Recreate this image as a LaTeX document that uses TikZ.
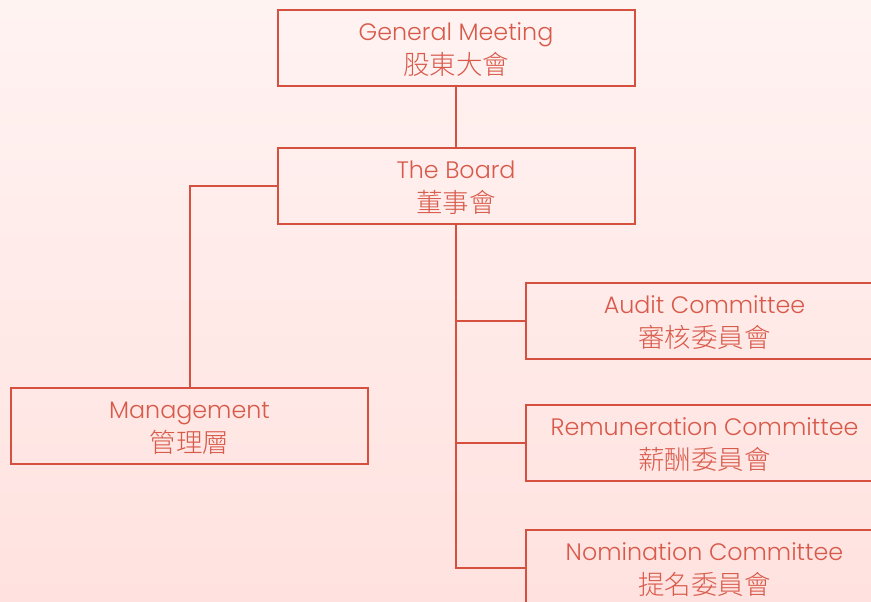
\documentclass[tikz,border=0pt]{standalone}
\usepackage{fontspec}
\setmainfont{Poppins}[UprightFont=* Light]
\newfontfamily\cjk{Noto Sans CJK TC}[UprightFont=* Light]
\definecolor{linecol}{HTML}{D5503F}
\definecolor{textcol}{HTML}{D85A4A}
\definecolor{bgtop}{HTML}{FFF3F2}
\definecolor{bgbot}{HTML}{FFE2DF}
\newcommand{\zh}[1]{{\cjk\fontsize{26.5}{34}\selectfont #1}}
\begin{document}
\begin{tikzpicture}[x=1pt,y=-1pt,
  orgbox/.style={draw=linecol,line width=2pt,minimum width=357pt,minimum height=76pt,inner sep=0pt},
  boxtext/.style={inner sep=0pt,text=textcol,align=center,font=\fontsize{23.8}{34}\selectfont,yshift=-2pt},
  conn/.style={draw=linecol,line width=2pt}]
\shade[top color=bgtop,bottom color=bgbot] (0,0) rectangle (871,602);
\useasboundingbox (0,0) rectangle (871,602);
\begin{scope}
\clip (0,0) rectangle (871,602);
\node[orgbox] (gm) at (456,48) {};
\node[orgbox] (board) at (456,186) {};
\node[orgbox] (mgmt) at (189.5,426) {};
\node[orgbox] (audit) at (704.5,320.5) {};
\node[orgbox] (remu) at (704.5,443) {};
\node[orgbox] (nomi) at (704.5,568) {};
\node[boxtext] (gmt) at (gm.center) {General Meeting\\\zh{股東大會}};
\node[boxtext] (boardt) at (board.center) {The Board\\\zh{董事會}};
\node[boxtext] (mgmtt) at (mgmt.center) {Management\\\zh{管理層}};
\node[boxtext] (auditt) at (audit.center) {Audit Committee\\\zh{審核委員會}};
\node[boxtext] (remut) at (remu.center) {Remuneration Committee\\\zh{薪酬委員會}};
\node[boxtext] (nomit) at (nomi.center) {Nomination Committee\\\zh{提名委員會}};
\coordinate (trunk) at (board.south |- nomi.west);
\draw[conn] (gm.south) -- (board.north);
\draw[conn] (board.west) -| (mgmt.north);
\draw[conn] (board.south) -- (trunk) -- (nomi.west);
\draw[conn] (board.south |- audit.west) -- (audit.west);
\draw[conn] (board.south |- remu.west) -- (remu.west);
\end{scope}
\end{tikzpicture}
\end{document}
